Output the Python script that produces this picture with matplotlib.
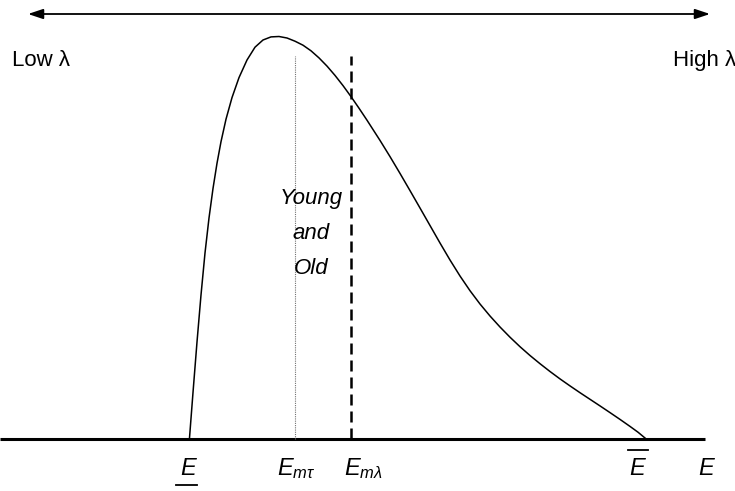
import matplotlib
matplotlib.use("Agg")
import matplotlib.pyplot as plt
import numpy as np

plt.rcParams.update({
    "font.family": ["Liberation Sans", "DejaVu Sans"],
    "mathtext.fontset": "custom",
    "mathtext.rm": "Liberation Sans",
    "mathtext.it": "Liberation Sans:italic",
})

# density curve (pixel rows, converted to height above the E axis)
curve_x = np.array([189.5, 193, 197, 201, 205, 209, 213, 217, 221, 226,
                    232, 239, 247, 255, 263, 271, 279, 287, 295, 303,
                    311, 319, 327, 335, 343, 351, 359, 367, 380, 390,
                    400, 410, 420, 430, 440, 450, 460, 470, 480, 490,
                    500, 510, 520, 530, 540, 550, 560, 570, 580, 590,
                    600, 610, 620, 630, 638, 645])
curve_row = np.array([438, 392.5, 342, 295, 253, 218, 188.5, 163.3, 141.7, 119.2,
                      97.6, 77.6, 60, 47.2, 40, 36.9, 36.5, 38, 41.2, 45.2,
                      50.8, 57.9, 66.1, 75.4, 85.6, 96.6, 108.2, 120.2, 140.4, 156.6,
                      173.4, 190.6, 208, 225.5, 243, 260, 276, 290.7, 304, 316,
                      327, 337.2, 346.7, 355.5, 363.7, 371.5, 378.9, 385.9, 392.7, 399.3,
                      405.9, 412.6, 419.4, 426.4, 432.2, 438])
BASE = 439
curve_y = BASE - curve_row

E_low = 189.5      # lower bound
E_high = 645       # upper bound
E_mtau = 295       # dotted marker
E_mlam = 351       # dashed marker
marker_top = BASE - 56

fig = plt.figure(figsize=(7.35, 4.91), dpi=100)
ax = fig.add_axes([0, 0, 1, 1])
ax.set_xlim(0, 735)
ax.set_ylim(BASE - 491, BASE)
ax.axis("off")

# E axis
ax.plot([0, 705], [0, 0], color="black", lw=2.2, solid_capstyle="butt")

# curve
ax.plot(curve_x, curve_y, color="black", lw=1.1, solid_joinstyle="round")

# vertical markers
ax.plot([E_mtau, E_mtau], [0, marker_top], color="0.45", lw=0.8, ls=(0, (1, 1)))
ax.plot([E_mlam, E_mlam], [0, marker_top], color="black", lw=1.8,
        ls=(0, (4.4, 2.4)))

# top double arrow
ax.annotate("", xy=(28, BASE - 14), xytext=(710, BASE - 14),
            arrowprops=dict(arrowstyle="<|-|>,head_length=0.9,head_width=0.3",
                            color="black", lw=1.3, shrinkA=0, shrinkB=0))

ax.text(12, BASE - 60, "Low λ", fontsize=16, ha="left", va="center")
ax.text(736, BASE - 60, "High λ", fontsize=16, ha="right", va="center")

for label, row in [("Young", 198), ("and", 233), ("Old", 268)]:
    ax.text(311, BASE - row, label, fontsize=16, style="italic",
            ha="center", va="center")

# axis labels
lab_y = BASE - 469
ax.text(E_low - 1, lab_y, "$E$", fontsize=17, ha="center", va="center")
ax.plot([176, 197], [BASE - 485] * 2, color="black", lw=1.3)
ax.text(E_mtau + 1, lab_y, r"$E_{m\tau}$", fontsize=17, ha="center", va="center")
ax.text(E_mlam + 12, lab_y, r"$E_{m\lambda}$", fontsize=17, ha="center", va="center")
ax.text(E_high - 7, lab_y, "$E$", fontsize=17, ha="center", va="center")
ax.plot([628, 648], [BASE - 450] * 2, color="black", lw=1.3)
ax.text(707, lab_y, "$E$", fontsize=17, ha="center", va="center")

fig.savefig("out.png", dpi=100, facecolor="white")
